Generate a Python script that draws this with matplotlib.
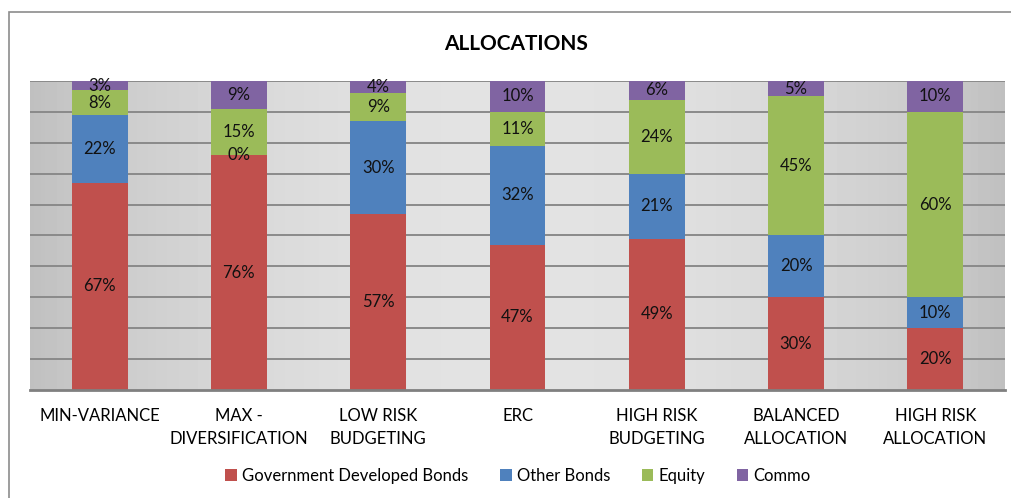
import numpy as np
import matplotlib
matplotlib.use("Agg")
import matplotlib.pyplot as plt
from matplotlib.patches import Rectangle

plt.rcParams['font.family'] = ['Lato', 'DejaVu Sans']

categories = ["MIN-VARIANCE", "MAX -\nDIVERSIFICATION", "LOW RISK\nBUDGETING", "ERC",
              "HIGH RISK\nBUDGETING", "BALANCED\nALLOCATION", "HIGH RISK\nALLOCATION"]
series = ["Government Developed Bonds", "Other Bonds", "Equity", "Commo"]
gov_bonds = [67, 76, 57, 47, 49, 30, 20]
other_bonds = [22, 0, 30, 32, 21, 20, 10]
equity = [8, 15, 9, 11, 24, 45, 60]
commo = [3, 9, 4, 10, 6, 5, 10]
colors = ["#C0504D", "#4F81BD", "#9BBB59", "#8064A2"]

W, H = 1011, 498
fig = plt.figure(figsize=(W / 100, H / 100), dpi=100)

# outer chart border (only left/top visible in the crop)
fig.patches.append(Rectangle((9 / W, -0.1), 1.2, (H - 12) / H + 0.1,
                             transform=fig.transFigure, fill=False,
                             edgecolor="#8c8c8c", lw=1.2))

ax = fig.add_axes([30 / W, (H - 390) / H, 975 / W, 309 / H])

# gradient background
xs = np.linspace(0, 1, 256)
shade = 0.75 + 0.14 * np.sin(np.pi * xs) ** 0.8
grad = np.tile(shade, (2, 1))
ax.imshow(grad, cmap="gray", vmin=0, vmax=1, aspect="auto",
          extent=[-0.5, len(categories) - 0.5, 0, 100], zorder=0)

x = np.arange(len(categories))
bottom = np.zeros(len(categories))
for name, vals, col in zip(series, [gov_bonds, other_bonds, equity, commo], colors):
    vals = np.array(vals, dtype=float)
    ax.bar(x, vals, 0.4, bottom=bottom, color=col, label=name, zorder=3)
    for xi, b, v in zip(x, bottom, vals):
        ax.text(xi, b + v / 2, f"{int(v)}%", ha="center", va="center",
                fontsize=12, color="#111111", zorder=4)
    bottom += vals

ax.set_xlim(-0.5, len(categories) - 0.5)
ax.set_ylim(0, 100)
for yv in range(10, 101, 10):
    ax.axhline(yv, color="#8a8a8a", lw=1.4, zorder=1)
ax.set_yticks([])
ax.set_xticks(x)
ax.set_xticklabels(categories, fontsize=12, linespacing=1.55)
ax.tick_params(axis="x", length=0, pad=13)
for s in ["top", "right", "left"]:
    ax.spines[s].set_visible(False)
ax.spines["bottom"].set_color("#808080")
ax.spines["bottom"].set_linewidth(2)
ax.spines["bottom"].set_zorder(5)

fig.text(516 / W, 1 - 44 / H, "ALLOCATIONS", ha="center", va="center",
         fontsize=15, fontweight="bold")

leg = fig.legend(loc="center", bbox_to_anchor=(518 / W, 1 - 476 / H), ncol=4,
                 frameon=False, fontsize=12, handlelength=0.7, handleheight=0.7,
                 handletextpad=0.3, columnspacing=1.9)

fig.savefig("out.png", dpi=100)
